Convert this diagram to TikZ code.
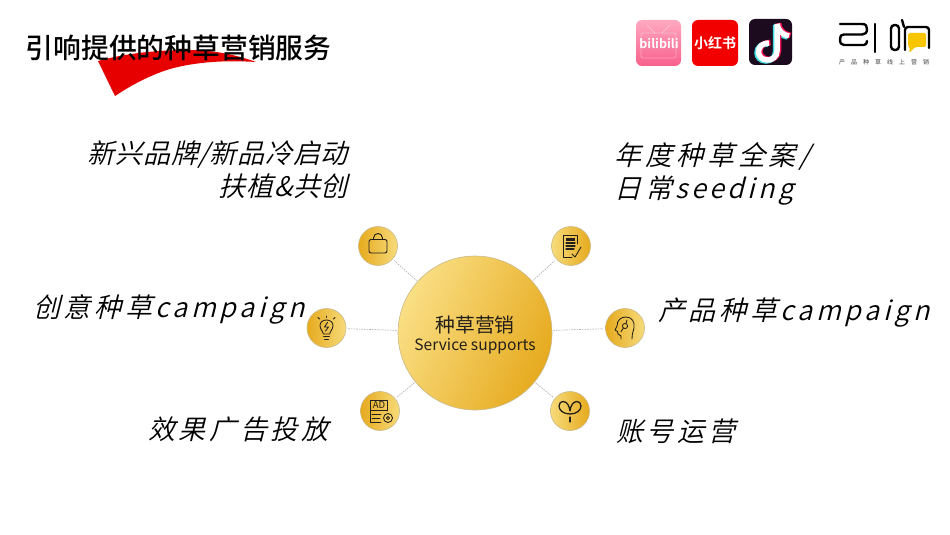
\documentclass[tikz,border=0pt]{standalone}
\usepackage{fontspec}
\usetikzlibrary{calc}
\setmainfont{Noto Sans CJK SC}
\newfontfamily\titlefont{Noto Sans CJK SC Medium}
\newfontfamily\itz[FakeSlant=0.25,LetterSpace=2.6]{Noto Sans CJK SC DemiLight}
\newfontfamily\itw[FakeSlant=0.25,LetterSpace=13.5]{Noto Sans CJK SC DemiLight}
\newfontfamily\itv[FakeSlant=0.25,LetterSpace=14.2]{Noto Sans CJK SC DemiLight}
\newfontfamily\itu[FakeSlant=0.25,LetterSpace=12.6]{Noto Sans CJK SC DemiLight}
\newfontfamily\tinyf[LetterSpace=100]{Noto Sans CJK SC}
\newfontfamily\logof{Noto Sans CJK SC Bold}
\definecolor{gD}{HTML}{E6AA1E}
\definecolor{gL}{HTML}{FADF85}
\definecolor{gS}{HTML}{F7DB7A}
\definecolor{gM}{HTML}{F3C94A}
\definecolor{rimc}{HTML}{C8B98A}
\definecolor{linec}{HTML}{ADADAD}
\definecolor{redc}{HTML}{E60000}
\definecolor{inkc}{HTML}{231F1A}
\definecolor{FFpink}{HTML}{FFA9C0}
\definecolor{FFdeep}{HTML}{F8608C}
\definecolor{tikbg}{HTML}{1C0B1E}
\definecolor{tikcy}{HTML}{3FE0E6}
\definecolor{tikrd}{HTML}{F0124F}
\definecolor{bubble}{HTML}{F7C600}
\tikzset{
  hub/.style={circle,draw=rimc,line width=.6pt,minimum size=154pt,inner sep=0pt,
    left color=gL,middle color=gM,right color=gD,shading angle=65},
  satL/.style={circle,draw=rimc,line width=.6pt,minimum size=39pt,inner sep=0pt,
    left color=gD,middle color=gM,right color=gS,shading angle=90},
  satR/.style={circle,draw=rimc,line width=.6pt,minimum size=39pt,inner sep=0pt,
    left color=gS,middle color=gM,right color=gD,shading angle=90},
  conn/.style={draw=linec,line width=.6pt,dash pattern=on 1.6pt off 1pt,shorten >=2pt,shorten <=1pt},
  ico/.style={draw=inkc,line width=.95pt,line cap=round,line join=round},
  lab/.style={inner sep=0pt,text=black},
  tile/.style={rounded corners=6pt},
  lg/.style={draw=black,line width=2.4pt,line cap=round,line join=round}
}
\begin{document}
\begin{tikzpicture}[x=1pt,y=-1pt]
\useasboundingbox (0,0) rectangle (950,535);
\fill[white] (0,0) rectangle (950,535);
% red swoosh
\fill[redc] (98,61) .. controls (130,52) and (165,50) .. (190,50)
  .. controls (215,50) and (240,56) .. (256,62)
  .. controls (225,60) and (195,62) .. (170,69)
  .. controls (150,75) and (130,86) .. (115,96) -- cycle;
\node[lab,anchor=base west,font=\titlefont\fontsize{27.8}{30}\selectfont] (title) at (25.5,59) {引响提供的种草营销服务};
% app tiles
\shade[tile,top color=FFpink,bottom color=FFdeep] (636,20) rectangle (681,66);
\draw[white,opacity=.35,line width=.8pt] (647,25) -- (655,33) (670,25) -- (662,33);
\draw[white,opacity=.35,line width=.8pt,rounded corners=2pt] (641,33) rectangle (676,58);
\node[lab,text=white,font=\logof\fontsize{12.5}{14}\selectfont] (bili) at (659,44) {bilibili};
\fill[tile,fill=red!95!black] (692,20) rectangle (738,66);
\node[lab,text=white,font=\logof\fontsize{14}{16}\selectfont] (xhs) at (715,43) {小红书};
\fill[tile,fill=tikbg] (749,19) rectangle (792,65);
\foreach \dx/\dy/\c in {-1.5/1/tikcy,1.5/-.6/tikrd,0/0/white}{
  \begin{scope}[shift={(\dx,\dy)}]
  \draw[\c,line width=5.5pt] (777,24) -- (777,51) .. controls (777,57) and (772,60) .. (767.5,60)
     .. controls (762,60) and (758.5,56) .. (758.5,52) .. controls (758.5,46) and (763,43) .. (769,43);
  \draw[\c,line width=5.5pt] (777,24) .. controls (778,31) and (783,35) .. (789,36);
  \end{scope}
}
% brand logo
\draw[lg] (840,24) -- (862,24) .. controls (866,24) and (867,26) .. (867,29)
  .. controls (867,33) and (865,34.5) .. (862,34.5) -- (844,34.5)
  .. controls (841,34.5) and (840,36) .. (840,39) .. controls (840,43) and (841,45) .. (844,45) -- (864,45)
  .. controls (866,45) and (867,43) .. (867,41);
\draw[lg] (875,24) -- (875,52);
\draw[lg,rounded corners=3.5pt] (891,25) rectangle (899,50);
\draw[lg] (902,20) -- (904,27);
\draw[lg,rounded corners=3pt] (905,50) -- (905,27) -- (929,27) -- (929,48);
\fill[bubble,rounded corners=1.5pt] (908,33) -- (926,33) -- (926,47) -- (915,47) -- (909,53) -- (910,47) -- (908,47) -- cycle;
\node[lab,anchor=base west,text=black!75,font=\tinyf\fontsize{6}{7}\selectfont] (slogan) at (839,65) {产品种草线上营销};
% hub and satellites
\node[hub] (main) at (475,333) {};
\node[lab,text=inkc,font=\fontsize{19.8}{22}\selectfont] (mainz) at (475,324.5) {种草营销};
\node[lab,text=inkc,font=\fontsize{15.6}{18}\selectfont] (maine) at (475,346) {Service supports};
\node[satL] (bag) at (378,246) {};
\node[satL] (bulb) at (326.5,328) {};
\node[satL] (adv) at (380,411) {};
\node[satR] (doc) at (571,246) {};
\node[satL] (head) at (625,328) {};
\node[satR] (sprout) at (570,411) {};
\foreach \n in {bag,bulb,adv,doc,head,sprout}{\draw[conn] (main) -- (\n);}
% icons
\begin{scope}[shift={(bag)},ico]
  \draw[rounded corners=2pt] (-9,-6.5) rectangle (9,7);
  \draw (-4.5,-6.5) -- (-4.5,-8) .. controls (-4.5,-11) and (-2,-12.5) .. (0,-12.5) .. controls (2,-12.5) and (4.5,-11) .. (4.5,-8) -- (4.5,-6.5);
\end{scope}
\begin{scope}[shift={(bulb)},ico,line width=.85pt]
  \draw (-3,6) .. controls (-3,3) and (-6.5,2) .. (-6.5,-2.5) .. controls (-6.5,-6) and (-3.5,-8) .. (0,-8) .. controls (3.5,-8) and (6.5,-6) .. (6.5,-2.5) .. controls (6.5,2) and (3,3) .. (3,6) -- cycle;
  \draw (-3,8.5) -- (3,8.5) (-2,11) -- (2,11);
  \draw (1,-5.5) -- (-2,-1) -- (2,-1) -- (-1,3);
  \draw (0,-10.5) -- (0,-12) (-7,-9) -- (-8.5,-10.5) (7,-9) -- (8.5,-10.5);
\end{scope}
\begin{scope}[shift={(adv)},ico,line width=.85pt]
  \draw (7.5,0) -- (7.5,-10.5) -- (-9.5,-10.5) -- (-9.5,11) -- (1,11);
  \draw (-9.5,-1) -- (7.5,-1);
  \node[lab,text=inkc,font=\fontsize{9.5}{10}\selectfont] (advtxt) at (-1,-5.6) {AD};
  \draw (-8,3) -- (1,3) (-8,7) -- (0,7);
  \draw (8,7) circle (4.5) (8,7) circle (1.6);
\end{scope}
\begin{scope}[shift={(doc)},ico,line width=.85pt]
  \draw (6,-2) -- (6,-11) -- (-8,-11) -- (-8,11) -- (1,11);
  \fill[inkc] (-5.5,-8) rectangle (4,-5.5);
  \draw[line width=1.2pt] (-5,-3) -- (4,-3) (-5,0) -- (4,0) (-5,3) -- (3,3);
  \draw (1,8) -- (4,11) -- (10,1);
\end{scope}
\begin{scope}[shift={(head)},ico,line width=.85pt]
  \draw (-4,11) -- (-4,8) -- (-7,6) -- (-7.5,3.5) -- (-10,2) -- (-8,-2)
    .. controls (-8,-8) and (-4,-11) .. (1,-11) .. controls (7,-11) and (10,-6) .. (9,0)
    .. controls (8.5,3) and (7,5) .. (7,11);
  \draw (0,-2) circle (2.6);
  \draw (-1.5,0) -- (-4,3.5) (1,-4.5) -- (2,-8);
\end{scope}
\begin{scope}[shift={(sprout)},ico,line width=1.3pt]
  \draw (0,6) -- (0,11);
  \draw (0,3) .. controls (-7,3) and (-11,-1) .. (-11,-5) .. controls (-11,-8) and (-9,-9.5) .. (-7,-9.5)
    .. controls (-3,-9.5) and (-0.5,-5) .. (0,0) .. controls (0.5,-5) and (3,-9.5) .. (7,-9.5)
    .. controls (9,-9.5) and (11,-8) .. (11,-5) .. controls (11,-1) and (7,3) .. (0,3);
\end{scope}
% labels
\node[lab,anchor=base east,align=right,font=\itz\fontsize{27}{33}\selectfont] (t1) at (348,196) {新兴品牌/新品冷启动\\扶植\&共创};
\node[lab,anchor=base west,font=\itv\fontsize{27}{33}\selectfont] (t2a) at (614.5,165) {年度种草全案/};
\node[lab,anchor=base west,font=\itu\fontsize{27}{33}\selectfont] (t2b) at (614.5,198) {日常seeding};
\node[lab,anchor=base west,font=\itw\fontsize{27}{33}\selectfont] (t3) at (33,317) {创意种草campaign};
\node[lab,anchor=base west,font=\itw\fontsize{27}{33}\selectfont] (t4) at (658,320) {产品种草campaign};
\node[lab,anchor=base west,font=\itw\fontsize{27}{33}\selectfont] (t5) at (148,439) {效果广告投放};
\node[lab,anchor=base west,font=\itw\fontsize{27}{33}\selectfont] (t6) at (616,441) {账号运营};
\end{tikzpicture}
\end{document}
